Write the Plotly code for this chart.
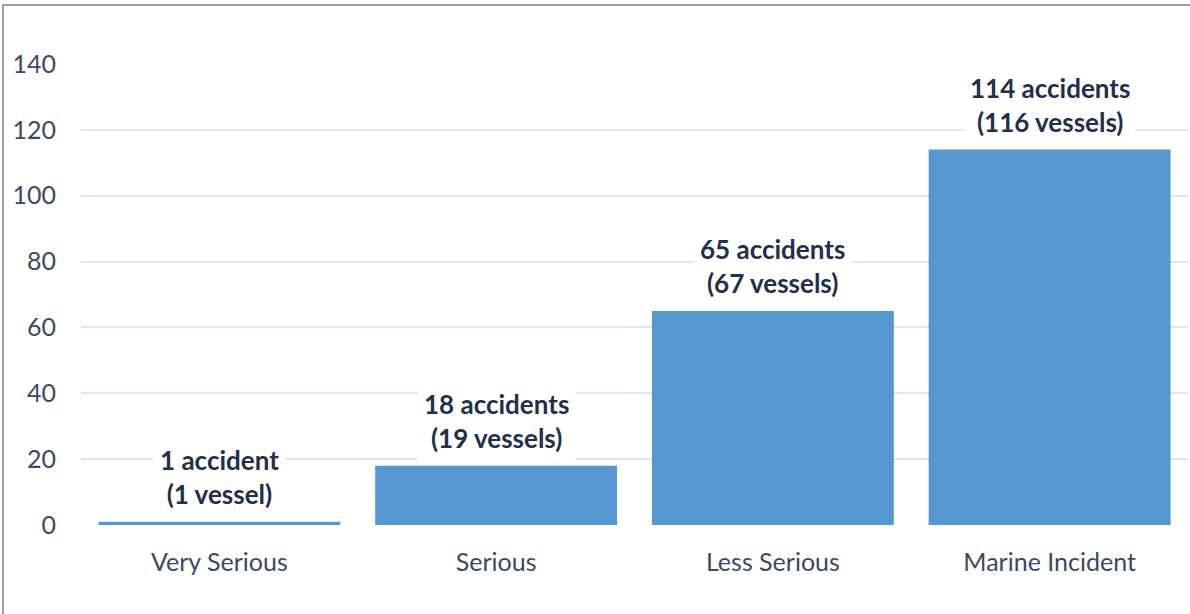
import plotly.graph_objects as go

categories = ["Very Serious", "Serious", "Less Serious", "Marine Incident"]
accidents = [1, 18, 65, 114]
vessels = [1, 19, 67, 116]
y_ticks = [0, 20, 40, 60, 80, 100, 120, 140]


def label(a, v):
    a_word = "accident" if a == 1 else "accidents"
    v_word = "vessel" if v == 1 else "vessels"
    return f"<b>{a} {a_word}<br>({v} {v_word})</b>"


FONT = "Lato, 'Open Sans', sans-serif"

fig = go.Figure(
    go.Bar(
        x=categories,
        y=accidents,
        marker=dict(color="#5497d1", line=dict(width=0)),
        hoverinfo="skip",
    )
)

for c, a, v in zip(categories, accidents, vessels):
    fig.add_annotation(
        x=c, y=a, xref="x", yref="y",
        text=label(a, v),
        showarrow=False,
        yanchor="bottom",
        yshift=5,
        bgcolor="white",
        borderpad=6,
        font=dict(family=FONT, size=26, color="#1f3048"),
    )

# outer frame
W, H = 1190, 614
L, R, T, B = 81, 2, 64, 89
pw, ph = W - L - R, H - T - B
fig.add_shape(
    type="rect", xref="paper", yref="paper",
    x0=(3 - L) / pw, x1=(1195 - L) / pw,
    y0=-(B + 10) / ph, y1=1 + (T - 5) / ph,
    line=dict(color="#a0a0a4", width=2),
    layer="above",
)

fig.update_layout(
    width=W, height=H,
    margin=dict(l=L, r=R, t=T, b=B, autoexpand=False),
    paper_bgcolor="white",
    plot_bgcolor="white",
    bargap=0.126,
    showlegend=False,
    font=dict(family=FONT, size=25, color="#3b4a5e"),
    xaxis=dict(
        showgrid=False, showline=False, ticks="",
        automargin=False,
        ticklabelstandoff=20,
        tickfont=dict(family=FONT, size=25, color="#3b4a5e"),
    ),
    yaxis=dict(
        range=[0, 140],
        tickvals=y_ticks,
        automargin=False,
        showgrid=True, gridcolor="#e0e4eb", gridwidth=2,
        zeroline=False, showline=False, ticks="",
        ticklabelstandoff=24,
        tickfont=dict(family=FONT, size=25, color="#3b4a5e"),
    ),
)

fig.write_html(
    "out.html",
    config={"displayModeBar": False},
    post_script="document.body.style.margin='0';document.body.style.overflow='hidden';",
)
